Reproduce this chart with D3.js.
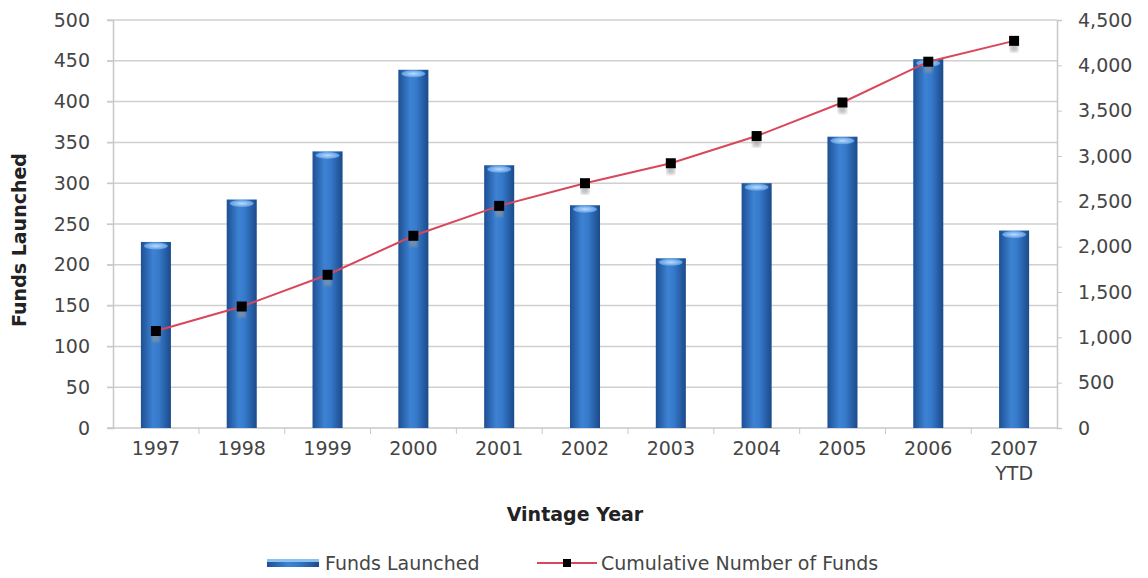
<!DOCTYPE html>
<html>
<head>
<meta charset="utf-8">
<script src="https://cdn.jsdelivr.net/npm/d3@7"></script>
<style>
  body { margin: 0; background: #fff; }
  text { font-family: "DejaVu Sans", Verdana, sans-serif; }
</style>
</head>
<body>
<script>
// Chart data
const years = ["1997", "1998", "1999", "2000", "2001", "2002", "2003", "2004", "2005", "2006", "2007\nYTD"];
const fundsLaunched = [228, 280, 339, 439, 322, 273, 208, 300, 357, 452, 242];
const cumulativeFunds = [1070, 1340, 1690, 2120, 2450, 2700, 2920, 3220, 3590, 4040, 4270];
const leftTicks = [0, 50, 100, 150, 200, 250, 300, 350, 400, 450, 500];
const rightTicks = [0, 500, 1000, 1500, 2000, 2500, 3000, 3500, 4000, 4500];

// Set up margins
const outerWidth = 1148, outerHeight = 578;
const margin = {left: 113, top: 20, right: 91, bottom: 150};
const width = outerWidth - margin.left - margin.right;
const height = outerHeight - margin.top - margin.bottom;

const svg = d3.select("body").append("svg")
    .attr("width", outerWidth)
    .attr("height", outerHeight)
    .style("background", "white");

// Bar gradient
const defs = svg.append("defs");
const grad = defs.append("linearGradient").attr("id", "barGrad")
    .attr("x1", "0%").attr("x2", "100%").attr("y1", "0%").attr("y2", "0%");
grad.append("stop").attr("offset", "0%").attr("stop-color", "#1d4f93");
grad.append("stop").attr("offset", "40%").attr("stop-color", "#3d82d3");
grad.append("stop").attr("offset", "60%").attr("stop-color", "#367acb");
grad.append("stop").attr("offset", "100%").attr("stop-color", "#1b4a8a");

const capGrad = defs.append("radialGradient").attr("id", "capGrad");
capGrad.append("stop").attr("offset", "0%").attr("stop-color", "#b9dcff");
capGrad.append("stop").attr("offset", "100%").attr("stop-color", "#5d9be0");

const shadow = defs.append("filter").attr("id", "blur");
shadow.append("feGaussianBlur").attr("stdDeviation", 1.5);

const canvas = svg.append("g")
    .attr("transform", `translate(${margin.left}, ${margin.top})`);

// Scales
const xScale = d3.scaleBand()
    .domain(years)
    .range([0, width])
    .paddingInner(0.65)
    .paddingOuter(0.325);
const yLeft = d3.scaleLinear().domain([0, 500]).range([height, 0]);
const yRight = d3.scaleLinear().domain([0, 4500]).range([height, 0]);

// Gridlines
canvas.selectAll(".grid")
    .data(leftTicks.slice(1))
    .join("line")
    .attr("class", "grid")
    .attr("x1", -6).attr("x2", width)
    .attr("y1", d => yLeft(d)).attr("y2", d => yLeft(d))
    .attr("stroke", "#d0d0d0")
    .attr("stroke-width", 1.5);

// Axes
const axisColor = "#c8c8c8";
const textColor = "#454545";
const fontSize = "19px";

const yAxisL = d3.axisLeft(yLeft).tickValues(leftTicks).tickSize(6).tickPadding(17);
const gL = canvas.append("g").call(yAxisL);
const yAxisR = d3.axisRight(yRight).tickValues(rightTicks).tickSize(5).tickPadding(16)
    .tickFormat(d3.format(","));
const gR = canvas.append("g").attr("transform", `translate(${width}, 0)`).call(yAxisR);

// x axis: ticks between categories
const xAxis = d3.axisBottom(xScale).tickSize(0).tickPadding(27);
const gX = canvas.append("g").attr("transform", `translate(0, ${height})`).call(xAxis);
gX.selectAll(".tick text").text(null)
    .each(function(d) {
        const lines = d.split("\n");
        const t = d3.select(this);
        lines.forEach((l, i) => t.append("tspan").attr("x", 0).attr("dy", i === 0 ? 0 : "1.3em").text(l));
    });
canvas.selectAll(".xtick")
    .data(years.slice(1))
    .join("line")
    .attr("class", "xtick")
    .attr("x1", d => xScale(d) - xScale.bandwidth() * 0.925)
    .attr("x2", d => xScale(d) - xScale.bandwidth() * 0.925)
    .attr("y1", height).attr("y2", height + 6)
    .attr("stroke", axisColor);

[gL, gR, gX].forEach(g => {
    g.selectAll(".domain").attr("stroke", axisColor).attr("stroke-width", 1.5);
    g.selectAll(".tick line").attr("stroke", axisColor);
    g.selectAll("text").attr("fill", textColor).style("font-size", fontSize)
        .style("font-family", "DejaVu Sans");
});
gX.select(".domain").attr("d", `M-6,0H${width}`);

// Bars
const bars = canvas.selectAll(".bar")
    .data(years.map((y, i) => ({year: y, value: fundsLaunched[i]})))
    .join("g")
    .attr("class", "bar");
bars.append("rect")
    .attr("x", d => xScale(d.year))
    .attr("y", d => yLeft(d.value))
    .attr("width", xScale.bandwidth())
    .attr("height", d => height - yLeft(d.value))
    .attr("fill", "url(#barGrad)");
bars.append("ellipse")
    .attr("cx", d => xScale(d.year) + xScale.bandwidth() / 2)
    .attr("cy", d => yLeft(d.value) + 4)
    .attr("rx", xScale.bandwidth() / 2 - 3)
    .attr("ry", 3.5)
    .attr("fill", "url(#capGrad)");

// Cumulative line
const cx = d => xScale(d.year) + xScale.bandwidth() / 2;
const cumData = years.map((y, i) => ({year: y, value: cumulativeFunds[i]}));
const line = d3.line().x(cx).y(d => yRight(d.value));

canvas.selectAll(".shadow")
    .data(cumData)
    .join("rect")
    .attr("class", "shadow")
    .attr("x", d => cx(d) - 4)
    .attr("y", d => yRight(d.value) + 3)
    .attr("width", 8).attr("height", 8)
    .attr("fill", "#999")
    .attr("opacity", 0.6)
    .attr("filter", "url(#blur)");

canvas.append("path")
    .datum(cumData)
    .attr("fill", "none")
    .attr("stroke", "#d9475a")
    .attr("stroke-width", 2)
    .attr("d", line);

canvas.selectAll(".points")
    .data(cumData)
    .join("rect")
    .attr("class", "points")
    .attr("x", d => cx(d) - 5)
    .attr("y", d => yRight(d.value) - 5)
    .attr("width", 10).attr("height", 10)
    .attr("fill", "#000");

// Axis labels
svg.append("text")
    .text("Funds Launched")
    .attr("transform", `translate(26, 240) rotate(-90)`)
    .style("text-anchor", "middle")
    .style("font-weight", "bold")
    .style("font-size", fontSize)
    .attr("fill", "#222");

svg.append("text")
    .text("Vintage Year")
    .attr("x", 575).attr("y", 521)
    .style("text-anchor", "middle")
    .style("font-weight", "bold")
    .style("font-size", fontSize)
    .attr("fill", "#222");

// Legend
const legend = svg.append("g").attr("transform", "translate(0, 563)");
legend.append("rect")
    .attr("x", 267).attr("y", -4).attr("width", 52).attr("height", 8)
    .attr("fill", "url(#barGrad)");
legend.append("rect")
    .attr("x", 267).attr("y", -4).attr("width", 52).attr("height", 3)
    .attr("fill", "#8cc0f0");
legend.append("text").text("Funds Launched")
    .attr("x", 325).attr("y", 7)
    .style("font-size", fontSize).attr("fill", textColor);
legend.append("line")
    .attr("x1", 537).attr("x2", 597).attr("y1", 0).attr("y2", 0)
    .attr("stroke", "#d9475a").attr("stroke-width", 2);
legend.append("rect")
    .attr("x", 563).attr("y", -4).attr("width", 8).attr("height", 8)
    .attr("fill", "#000");
legend.append("text").text("Cumulative Number of Funds")
    .attr("x", 601).attr("y", 7)
    .style("font-size", fontSize).attr("fill", textColor);
</script>
</body>
</html>
